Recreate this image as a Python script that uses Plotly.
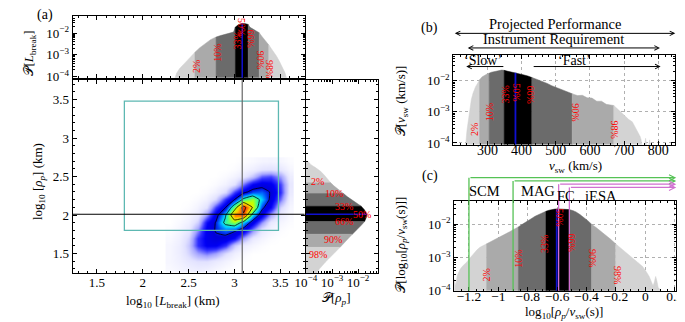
import plotly.graph_objects as go

FONT = "Liberation Serif, DejaVu Serif, serif"
W, H = 685, 322

# ---------------- data ----------------
# (a) marginal of log10 L_break
lb_x = [2.35, 2.37, 2.40, 2.45, 2.49, 2.53, 2.57, 2.62, 2.686, 2.74, 2.80, 2.85, 2.88, 2.92, 2.95, 2.99,
        3.01, 3.04, 3.07, 3.085, 3.12, 3.15, 3.17, 3.20, 3.24, 3.27, 3.30, 3.34, 3.375, 3.40, 3.43, 3.46,
        3.49, 3.52, 3.55, 3.57]
lb_logp = [-4.1, -3.85, -3.65, -3.42, -3.25, -3.05, -2.88, -2.68, -2.45, -2.30, -2.18, -2.11, -2.07, -2.03,
           -2.00, -1.95, -1.72, -1.62, -1.57, -1.55, -1.56, -1.60, -1.73, -1.80, -1.88, -1.98, -2.15, -2.35,
           -2.55, -2.70, -2.87, -3.07, -3.30, -3.55, -3.82, -4.1]
lb_pct = [2.57, 2.80, 3.01, 3.15, 3.27, 3.375]
lb_median = 3.085
lb_median_logp = -1.55

# (a) marginal of log10 rho_p
rho_y = [2.72, 2.69, 2.655, 2.62, 2.57, 2.52, 2.46, 2.42, 2.38, 2.33, 2.28, 2.24, 2.19, 2.15, 2.114, 2.07,
         2.03, 2.01, 1.98, 1.95, 1.916, 1.87, 1.81, 1.75, 1.70, 1.64, 1.58, 1.52, 1.47, 1.43, 1.39, 1.35,
         1.30, 1.26, 1.23]
rho_logp = [-4.1, -3.9, -3.81, -3.65, -3.44, -3.3, -3.17, -3.05, -2.93, -2.76, -2.56, -2.42, -2.19, -2.03,
            -1.88, -1.76, -1.68, -1.66, -1.67, -1.70, -1.75, -1.87, -2.06, -2.22, -2.36, -2.53, -2.69, -2.87,
            -3.0, -3.13, -3.25, -3.37, -3.48, -3.56, -3.6]
rho_pct = [2.42, 2.28, 2.114, 1.916, 1.75, 1.58]
rho_median = 2.01
rho_median_logp = -1.66

# (a) joint density (relative level) on a grid of log10 L_break x log10 rho_p
grid_L = [2.3, 2.4, 2.5, 2.6, 2.7, 2.8, 2.9, 3.0, 3.1, 3.2, 3.3, 3.4, 3.5, 3.6]
grid_rho = [1.3, 1.4, 1.5, 1.6, 1.7, 1.8, 1.9, 2.0, 2.1, 2.2, 2.3, 2.4, 2.5, 2.6, 2.7]
density = [
    [0.02, 0.035, 0.05, 0.06, 0.05, 0.03, 0.01, 0, 0, 0, 0, 0, 0, 0],
    [0.03, 0.05, 0.08, 0.10, 0.10, 0.07, 0.04, 0.015, 0, 0, 0, 0, 0, 0],
    [0.03, 0.06, 0.12, 0.20, 0.24, 0.20, 0.11, 0.05, 0.02, 0, 0, 0, 0, 0],
    [0.03, 0.06, 0.14, 0.30, 0.38, 0.38, 0.30, 0.14, 0.06, 0.03, 0.01, 0, 0, 0],
    [0.02, 0.05, 0.12, 0.30, 0.39, 0.43, 0.42, 0.35, 0.19, 0.075, 0.035, 0.01, 0, 0],
    [0.01, 0.035, 0.08, 0.22, 0.39, 0.46, 0.50, 0.47, 0.40, 0.22, 0.08, 0.035, 0.01, 0],
    [0, 0.02, 0.05, 0.13, 0.35, 0.46, 0.63, 0.69, 0.55, 0.40, 0.22, 0.075, 0.03, 0.01],
    [0, 0.005, 0.03, 0.075, 0.22, 0.41, 0.58, 0.86, 0.88, 0.56, 0.39, 0.19, 0.06, 0.02],
    [0, 0, 0.01, 0.04, 0.10, 0.29, 0.44, 0.68, 0.95, 0.74, 0.48, 0.36, 0.12, 0.03],
    [0, 0, 0, 0.015, 0.045, 0.12, 0.31, 0.45, 0.63, 0.70, 0.56, 0.42, 0.24, 0.05],
    [0, 0, 0, 0, 0.015, 0.05, 0.12, 0.30, 0.42, 0.49, 0.50, 0.44, 0.30, 0.07],
    [0, 0, 0, 0, 0, 0.015, 0.045, 0.10, 0.25, 0.37, 0.41, 0.39, 0.28, 0.08],
    [0, 0, 0, 0, 0, 0, 0.015, 0.04, 0.08, 0.15, 0.26, 0.28, 0.20, 0.06],
    [0, 0, 0, 0, 0, 0, 0, 0.01, 0.035, 0.055, 0.09, 0.10, 0.08, 0.03],
    [0, 0, 0, 0, 0, 0, 0, 0, 0.01, 0.02, 0.035, 0.04, 0.03, 0.01],
]
box_L = [1.8, 3.48]
box_rho = [1.8, 3.48]

# (b) solar wind speed distribution
vsw = [236, 240, 244, 248, 253, 258, 265, 272, 277, 284, 292, 300, 305, 312, 320, 330, 342, 349, 360, 375,
       382, 390, 404, 418, 430, 445, 460, 475, 488, 502, 517, 532, 548, 556, 564, 578, 592, 606, 620, 634,
       648, 660, 670, 678, 686, 695, 705, 714, 724, 731, 738, 743, 747, 750, 752, 760, 763, 766, 772, 775, 778]
vsw_logp = [-4.1, -3.6, -3.25, -2.9, -2.6, -2.4, -2.2, -2.07, -1.97, -1.88, -1.82, -1.78, -1.76, -1.73, -1.71,
            -1.68, -1.66, -1.67, -1.70, -1.73, -1.75, -1.77, -1.81, -1.85, -1.90, -1.96, -2.02, -2.09, -2.16,
            -2.22, -2.28, -2.35, -2.42, -2.45, -2.48, -2.47, -2.55, -2.56, -2.66, -2.66, -2.76, -2.78, -2.80,
            -2.88, -2.96, -3.05, -3.17, -3.25, -3.32, -3.45, -3.58, -3.68, -3.79, -3.9, -4.1, -4.1, -3.85,
            -4.1, -4.1, -3.9, -4.1]
vsw_pct = [277, 305, 349, 430, 548, 670]
vsw_median = 382
vsw_median_logp = -1.75
projected_range = [200, 850]
requirement_range = [238, 805]
slow_range = [238, 351]
fast_range = [431, 807]

# (c) log10(rho_p / v_sw) distribution
lr = [-1.31, -1.30, -1.29, -1.28, -1.26, -1.246, -1.213, -1.19, -1.169, -1.145, -1.125, -1.10, -1.08, -1.05,
      -1.014, -0.98, -0.948, -0.92, -0.893, -0.864, -0.84, -0.815, -0.79, -0.771, -0.75, -0.727, -0.70,
      -0.676, -0.655, -0.638, -0.615, -0.598, -0.575, -0.55, -0.535, -0.517, -0.495, -0.472, -0.445, -0.417,
      -0.39, -0.366, -0.335, -0.306, -0.27, -0.24, -0.202, -0.175, -0.152, -0.12, -0.085, -0.05, -0.019,
      0.005, 0.026, 0.04, 0.052, 0.06, 0.07, 0.078, 0.087, 0.10, 0.114]
lr_logp = [-4.1, -3.65, -3.85, -3.55, -3.35, -3.27, -3.13, -3.0, -2.88, -2.77, -2.69, -2.63, -2.59, -2.52,
           -2.44, -2.37, -2.29, -2.22, -2.15, -2.08, -2.01, -1.95, -1.88, -1.82, -1.76, -1.71, -1.66, -1.61,
           -1.58, -1.56, -1.545, -1.54, -1.54, -1.54, -1.55, -1.56, -1.59, -1.63, -1.71, -1.80, -1.90, -2.00,
           -2.10, -2.20, -2.33, -2.44, -2.59, -2.69, -2.78, -2.90, -3.03, -3.15, -3.27, -3.42, -3.57, -3.72,
           -3.85, -3.75, -3.57, -3.7, -3.9, -3.97, -4.1]
lr_pct = [-1.08, -0.864, -0.676, -0.517, -0.366, -0.202]
lr_median = -0.603
lr_median_logp = -1.54
instr_names = ["SCM", "MAG", "FC", "iESA"]
instr_x = [-1.2, -0.9, -0.59, -0.517]

pct_text = ["2%", "10%", "33%", "50%", "66%", "90%", "98%"]

# ---------------- styling ----------------
LIGHT, MID, DARK = "#d3d3d3", "#aaaaaa", "#6b6b6b"
band_colors = [LIGHT, MID, DARK, "#000000", DARK, MID, LIGHT]
BASE = 1e-7
GREEN, MAGENTA, BLUE, TEAL = "#55c255", "#d070d0", "#1010d0", "#5db8b2"

fig = go.Figure()


def add_bands(pos, logp, pct, xa, ya, horizontal=False):
    edges = [pos[0]] + pct + [pos[-1]]
    for i in range(7):
        lo, hi = sorted((edges[i], edges[i + 1]))
        sel = [(p, 10 ** lp) for p, lp in zip(pos, logp) if lo <= p <= hi]
        pp = [sel[0][0]] + [s[0] for s in sel] + [sel[-1][0]]
        vv = [BASE] + [s[1] for s in sel] + [BASE]
        tx, ty = (vv, pp) if horizontal else (pp, vv)
        fig.add_trace(go.Scatter(x=tx, y=ty, xaxis=xa, yaxis=ya, fill="toself",
                                 fillcolor=band_colors[i], mode="lines",
                                 line=dict(width=0.5, color=band_colors[i]),
                                 hoverinfo="skip", showlegend=False))


# main joint density
cscale = [[0, "#ffffff"], [0.03, "#f6f6ff"], [0.1, "#e2e2ff"], [0.2, "#a4a4ff"], [0.3, "#3030ff"],
          [0.37, "#0000f5"], [0.44, "#0000d8"], [0.5, "#0066ff"], [0.56, "#00d4ff"], [0.64, "#44ff88"],
          [0.72, "#c8ff00"], [0.8, "#ffd000"], [0.88, "#ff6000"], [1, "#dd0000"]]
fig.add_trace(go.Heatmap(x=grid_L, y=grid_rho, z=density, colorscale=cscale, zmin=0, zmax=1,
                         zsmooth="best", showscale=False, hoverinfo="skip", xaxis="x", yaxis="y"))
fig.add_trace(go.Contour(x=grid_L, y=grid_rho, z=density, xaxis="x", yaxis="y", showscale=False,
                         contours=dict(coloring="lines", start=0.45, end=0.9, size=0.15),
                         colorscale=[[0, "black"], [1, "black"]], line=dict(width=0.8, smoothing=0.3),
                         hoverinfo="skip"))

# marginals
add_bands(lb_x, lb_logp, lb_pct, "x2", "y2")
fig.add_trace(go.Scatter(x=[lb_median, lb_median], y=[BASE, 10 ** lb_median_logp], xaxis="x2", yaxis="y2",
                         mode="lines", line=dict(color=BLUE, width=1.5), showlegend=False, hoverinfo="skip"))
add_bands(rho_y, rho_logp, rho_pct, "x3", "y3", horizontal=True)
fig.add_trace(go.Scatter(x=[BASE, 10 ** rho_median_logp], y=[rho_median, rho_median], xaxis="x3", yaxis="y3",
                         mode="lines", line=dict(color=BLUE, width=1.5), showlegend=False, hoverinfo="skip"))
add_bands(vsw, vsw_logp, vsw_pct, "x4", "y4")
fig.add_trace(go.Scatter(x=[vsw_median, vsw_median], y=[BASE, 10 ** vsw_median_logp], xaxis="x4", yaxis="y4",
                         mode="lines", line=dict(color=BLUE, width=1.8), showlegend=False, hoverinfo="skip"))
add_bands(lr, lr_logp, lr_pct, "x5", "y5")
fig.add_trace(go.Scatter(x=[lr_median, lr_median], y=[BASE, 10 ** lr_median_logp], xaxis="x5", yaxis="y5",
                         mode="lines", line=dict(color=BLUE, width=1.8), showlegend=False, hoverinfo="skip"))


def dom_x(a, b):
    return [a / W, b / W]


def dom_y(top, bot):
    return [1 - bot / H, 1 - top / H]


tickfont = dict(family=FONT, size=13, color="black")
base_ax = dict(showline=True, linecolor="black", linewidth=1, mirror="allticks", ticks="inside",
               ticklen=4, tickcolor="black", zeroline=False, showgrid=False, tickfont=tickfont)
log_minor = [k * 10.0 ** e for e in (-5, -4, -3, -2, -1) for k in range(2, 10)]
logticks = dict(type="log", tickmode="array", tickvals=[1e-4, 1e-3, 1e-2],
                ticktext=["10<sup>−4</sup>", "10<sup>−3</sup>", "10<sup>−2</sup>"],
                minor=dict(tickmode="array", tickvals=log_minor, ticks="inside", ticklen=2, tickcolor="black"))

L_range = [1.235, 3.765]
R_range = [1.243, 3.76]
main_ticks = [1.5, 2, 2.5, 3, 3.5]
main_text = ["1.5", "2", "2.5", "3", "3.5"]
lin_minor = dict(ticks="inside", ticklen=2, tickcolor="black", dtick=0.1, tick0=0)

x_main = dom_x(55, 293.3)
y_main = dom_y(73.5, 272)

grid_style = dict(showgrid=True, gridcolor="#b0b0b0", griddash="dot", gridwidth=1)

fig.update_layout(
    width=W, height=H, margin=dict(l=0, r=0, t=0, b=0),
    paper_bgcolor="white", plot_bgcolor="white", showlegend=False,
    font=dict(family=FONT, size=13, color="black"),
    xaxis=dict(base_ax, domain=x_main, range=L_range, anchor="y", tickmode="array",
               tickvals=main_ticks, ticktext=main_text, minor=lin_minor, ticklabelstandoff=-3),
    yaxis=dict(base_ax, domain=y_main, range=R_range, anchor="x", tickmode="array",
               tickvals=main_ticks, ticktext=main_text, minor=lin_minor),
    xaxis2=dict(base_ax, domain=x_main, range=L_range, anchor="y2", tickmode="array",
                tickvals=main_ticks, showticklabels=False, minor=lin_minor),
    yaxis2=dict(base_ax, **logticks, domain=dom_y(8.3, 71.5), range=[-4.06, -1.21], anchor="x2"),
    xaxis3=dict(base_ax, **logticks, domain=dom_x(294.7, 368.3), range=[-4, -1.25], anchor="y3",
                ticklabelstandoff=-3),
    yaxis3=dict(base_ax, domain=y_main, range=R_range, anchor="x3", tickmode="array",
                tickvals=main_ticks, showticklabels=False, minor=lin_minor),
    xaxis4=dict(base_ax, **grid_style, domain=dom_x(446, 674), range=[200, 850], anchor="y4",
                tickmode="array", tickvals=[300, 400, 500, 600, 700, 800], ticklabelstandoff=-7,
                tickfont=dict(family=FONT, size=14, color="black"),
                minor=dict(ticks="inside", ticklen=2, tickcolor="black", dtick=20, tick0=0)),
    yaxis4=dict(base_ax, **grid_style, **logticks, domain=dom_y(48.3, 140), range=[-4.05, -1.18],
                anchor="x4"),
    xaxis5=dict(base_ax, **grid_style, domain=dom_x(447, 675), range=[-1.30, 0.21], anchor="y5",
                tickmode="array", tickvals=[-1.2, -1.0, -0.8, -0.6, -0.4, -0.2, 0, 0.2], ticklabelstandoff=-7,
                ticktext=["−1.2", "−1", "−0.8", "−0.6", "−0.4", "−0.2", "0", "0.2"],
                tickfont=dict(family=FONT, size=13.5, color="black"),
                minor=dict(ticks="inside", ticklen=2, tickcolor="black", dtick=0.05, tick0=0)),
    yaxis5=dict(base_ax, **grid_style, **logticks, domain=dom_y(197.5, 290), range=[-4.0, -1.29],
                anchor="x5"),
)

shapes = []
# main panel guides
shapes.append(dict(type="rect", xref="x", yref="y", x0=box_L[0], x1=box_L[1], y0=box_rho[0], y1=box_rho[1],
                   line=dict(color=TEAL, width=1.3)))
shapes.append(dict(type="line", xref="x", yref="y domain", x0=lb_median, x1=lb_median, y0=0, y1=1,
                   line=dict(color="#666666", width=1.2)))
shapes.append(dict(type="line", xref="x domain", yref="y", x0=0, x1=1, y0=rho_median, y1=rho_median,
                   line=dict(color="black", width=1)))

annotations = []


def label(text, x, y, xref="paper", yref="paper", size=13, angle=0, color="black", **kw):
    annotations.append(dict(text=text, x=x, y=y, xref=xref, yref=yref, showarrow=False, textangle=angle,
                            font=dict(family=FONT, size=size, color=color), xanchor="center",
                            yanchor="middle", **kw))


# percent labels
a_top_pos = [(2.58, -3.52), (2.816, -2.93), (3.03, -2.33), (3.085, -1.72), (3.17, -2.25), (3.287, -3.22),
             (3.38, -3.67)]
b_pos = [(264, -3.58), (305, -3.01), (352, -2.44), (385, -2.39), (427, -2.44), (559, -3.01), (672, -3.58)]
c_pos = [(-1.08, -3.52), (-0.864, -3.03), (-0.682, -2.59), (-0.585, -1.8), (-0.505, -2.55), (-0.36, -3.03),
         (-0.194, -3.52)]
r_pos = [(-3.54, 2.44), (-2.91, 2.28), (-2.54, 2.114), (-1.85, 2.01), (-2.54, 1.91), (-2.98, 1.68),
         (-3.54, 1.49)]
for i, t in enumerate(pct_text):
    ang = -90 if i < 3 else 90
    label(t, a_top_pos[i][0], a_top_pos[i][1], "x2", "y2", size=10, angle=ang, color="red")
    label(t, b_pos[i][0], b_pos[i][1], "x4", "y4", size=10, angle=ang, color="red")
    label(t, c_pos[i][0], c_pos[i][1], "x5", "y5", size=10, angle=ang, color="red")
    label(t, r_pos[i][0], r_pos[i][1], "x3", "y3", size=10, color="red")

# panel letters and axis titles
P = "𝒫"
label("(a)", 27 / W, 1 - 7 / H, size=14)
label("(b)", 422 / W, 1 - 20 / H, size=14)
label("(c)", 422 / W, 1 - 172 / H, size=14)
label(P + "[<i>L</i><sub>break</sub>]", 11 / W, 1 - 46 / H, angle=-90, size=13)
label("log<sub>10</sub> [<i>ρ<sub>p</sub></i>] (km)", 20 / W, 1 - 178 / H, angle=-90, size=13)
label("log<sub>10</sub> [<i>L</i><sub>break</sub>] (km)", 158 / W, 1 - 301 / H, size=13)
label(P + "[<i>ρ<sub>p</sub></i>]", 326 / W, 1 - 298 / H, size=13)
label(P + "[<i>v</i><sub>sw</sub> (km/s)]", 393 / W, 1 - 95 / H, angle=-90, size=13)
label("<i>v</i><sub>sw</sub> (km/s)", 572 / W, 1 - 163 / H, size=13)
label(P + "[log<sub>10</sub>[<i>ρ<sub>p</sub></i>/<i>v</i><sub>sw</sub>(s)]]", 393 / W, 1 - 243 / H,
      angle=-90, size=13)
label("log<sub>10</sub>[<i>ρ<sub>p</sub></i>/<i>v</i><sub>sw</sub>(s)]", 560 / W, 1 - 312 / H, size=13)


# panel (b) arrows
def fb(v):
    return (v - 200) / 650.0


def arrow(xref, yref, x_head, x_tail, y, color="black", both=False, width=1):
    annotations.append(dict(text="", xref=xref, yref=yref, axref=xref, ayref=yref, x=x_head, ax=x_tail,
                            y=y, ay=y, showarrow=True, arrowhead=5, startarrowhead=5, arrowsize=0.9,
                            startarrowsize=0.9, arrowwidth=width, arrowcolor=color,
                            arrowside="end+start" if both else "end"))


arrow("x4 domain", "y4 domain", fb(projected_range[1]), fb(projected_range[0]), 1.243, both=True)
arrow("x4 domain", "y4 domain", fb(requirement_range[1]), fb(requirement_range[0]), 1.08, both=True)
arrow("x4 domain", "y4 domain", fb(slow_range[0]), fb(slow_range[1]), 0.872)
arrow("x4 domain", "y4 domain", fb(fast_range[1]), fb(fast_range[0]), 0.872)
label("Projected Performance", 0.456, 1.345, "x4 domain", "y4 domain", size=14.5)
label("Instrument Requirement", 0.452, 1.18, "x4 domain", "y4 domain", size=14.5)
label("‘Slow’", 0.135, 0.945, "x4 domain", "y4 domain", size=14)
label("‘Fast’", 0.544, 0.945, "x4 domain", "y4 domain", size=14)


# panel (c) instrument ranges
def fc(x):
    return (x + 1.30) / 1.51


instr_colors = [GREEN, GREEN, MAGENTA, MAGENTA]
instr_levels = [1.254, 1.218, 1.182, 1.146]
instr_lbl = [(0.136, 1.11), (0.377, 1.11), (0.505, 1.056), (0.66, 1.056)]
for name, xv, col, lev, lp in zip(instr_names, instr_x, instr_colors, instr_levels, instr_lbl):
    shapes.append(dict(type="line", xref="x5 domain", yref="y5 domain", x0=fc(xv), x1=fc(xv), y0=0, y1=lev,
                       line=dict(color=col, width=1.3)))
    arrow("x5 domain", "y5 domain", 1.0, fc(xv), lev, color=col, width=1.3)
    label(name, lp[0], lp[1], "x5 domain", "y5 domain", size=14.5)

fig.update_layout(shapes=shapes, annotations=annotations)
fig.write_html("out.html")
